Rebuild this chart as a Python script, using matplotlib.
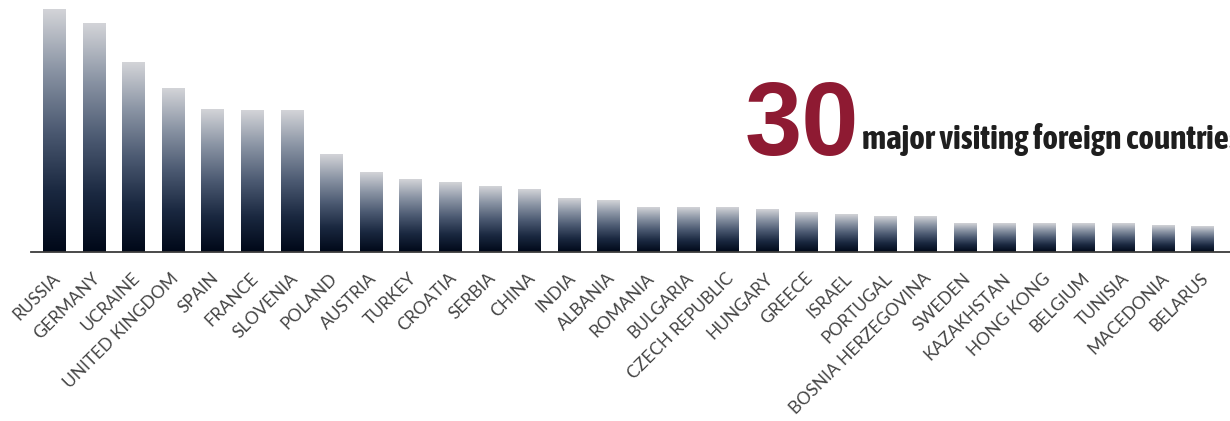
import numpy as np
import matplotlib
matplotlib.use("Agg")
import matplotlib.pyplot as plt
import matplotlib.transforms as mtransforms
from matplotlib import font_manager
from matplotlib.colors import LinearSegmentedColormap

countries = ["RUSSIA", "GERMANY", "UCRAINE", "UNITED KINGDOM", "SPAIN", "FRANCE",
             "SLOVENIA", "POLAND", "AUSTRIA", "TURKEY", "CROATIA", "SERBIA", "CHINA",
             "INDIA", "ALBANIA", "ROMANIA", "BULGARIA", "CZECH REPUBLIC", "HUNGARY",
             "GREECE", "ISRAEL", "PORTUGAL", "BOSNIA HERZEGOVINA", "SWEDEN",
             "KAZAKHSTAN", "HONG KONG", "BELGIUM", "TUNISIA", "MACEDONIA", "BELARUS"]
values = [243, 229, 190, 164, 143, 142, 142, 98, 80, 73, 70, 66, 63, 54, 52,
          45, 45, 45, 43, 40, 38, 36, 36, 29, 29, 29, 29, 29, 27, 26]
big_number = "30"
headline = "major visiting foreign countries"

# condensed face for the headline if one is installed (prefer one with a bold cut)
narrow = None
for f in font_manager.fontManager.ttflist:
    n = f.name.lower()
    if ("condensed" in n or "narrow" in n) and f.weight in ("bold", 700, 600, "semibold", "heavy", 800, 900):
        narrow = f.name
        break
if narrow is None:
    for f in font_manager.fontManager.ttflist:
        n = f.name.lower()
        if "condensed" in n or "narrow" in n:
            narrow = f.name
            break
head_family = ([narrow] if narrow else []) + ["Liberation Sans", "DejaVu Sans"]

W, H = 1230, 421
fig = plt.figure(figsize=(W / 100, H / 100), dpi=100)
ax = fig.add_axes([31 / W, (H - 252) / H, 1 - 31 / W, 252 / H])

cmap = LinearSegmentedColormap.from_list(
    "bar", ["#000818", "#1a2840", "#4c5a72", "#8a94a4", "#d3d4d8"])
grad = np.linspace(0, 1, 256).reshape(-1, 1)

x = np.arange(len(countries))
width = 0.556
for xi, v in zip(x, values):
    ax.imshow(grad, cmap=cmap, origin="lower", aspect="auto",
              extent=(xi - width / 2, xi + width / 2, 0, v), interpolation="bicubic")

ax.set_xlim(-0.58, 29.7)
ax.set_ylim(0, 252)

for s in ["top", "right", "left"]:
    ax.spines[s].set_visible(False)
ax.spines["bottom"].set_color("#3c3c3c")
ax.spines["bottom"].set_linewidth(1.3)
ax.set_yticks([])
ax.set_xticks(x)
ax.set_xticklabels(countries, rotation=45, ha="right", rotation_mode="anchor",
                   fontsize=12.5, color="#444444", family=["Lato", "DejaVu Sans"])
ax.tick_params(axis="x", length=0, pad=13)
shift = mtransforms.ScaledTranslation(-2 / 100, 0, fig.dpi_scale_trans)
for lab in ax.get_xticklabels():
    lab.set_transform(lab.get_transform() + shift)

fig.text(745 / W, 1 - 155 / H, big_number, fontsize=74, fontweight="heavy",
         color="#8e1a32", family=["Liberation Sans", "DejaVu Sans"],
         ha="left", va="baseline")

# size the headline so that "...countrie" reaches the right edge, as in the reference
probe = fig.text(0, 0, headline[:-1], fontsize=20, fontweight="bold", family=head_family)
renderer = fig.canvas.get_renderer()
pw = probe.get_window_extent(renderer).width
probe.remove()
head_size = min(24, 20 * (1232 - 862) / pw)
fig.text(862 / W, 1 - 149 / H, headline, fontsize=head_size,
         fontweight="bold", color="#1e1e1e", family=head_family,
         ha="left", va="baseline")

fig.savefig("out.png", dpi=100)
